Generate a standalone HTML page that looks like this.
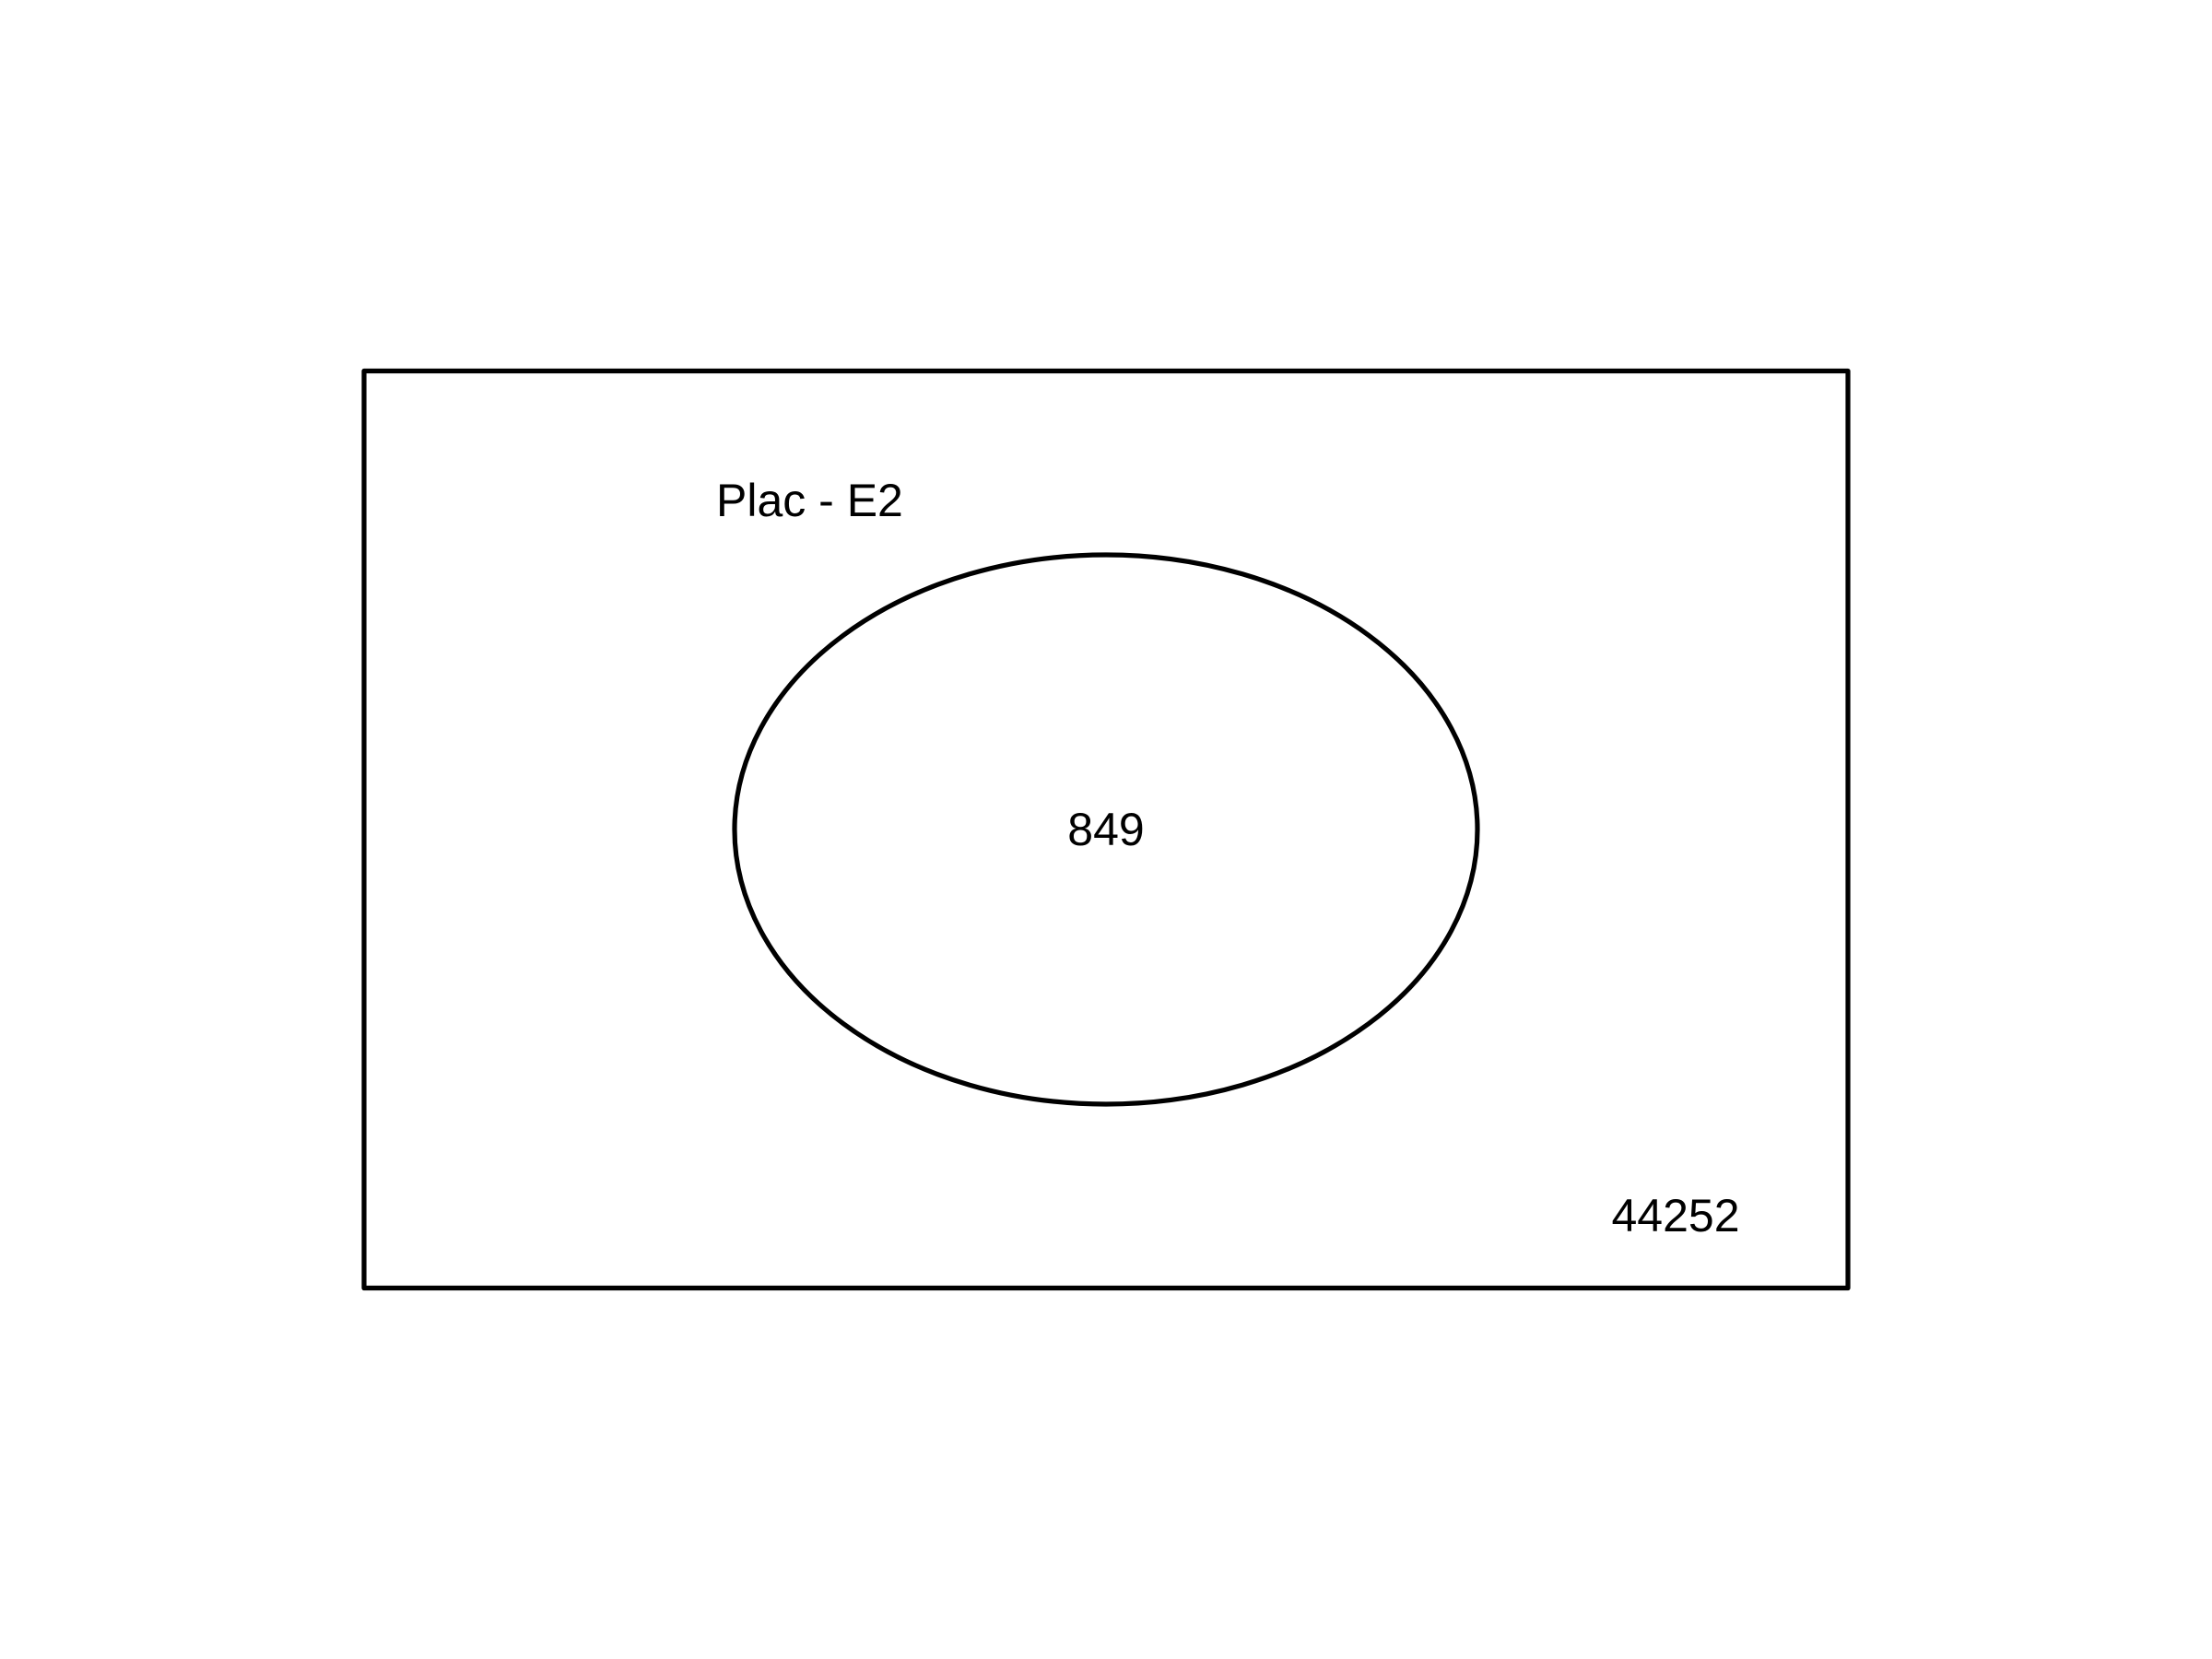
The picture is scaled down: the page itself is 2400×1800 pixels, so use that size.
<!DOCTYPE html>
<html>
<head>
<meta charset="utf-8">
<style>
html,body{margin:0;padding:0;background:#fff;}
svg{display:block;}
text{font-family:"Liberation Sans",sans-serif;fill:#000;}
</style>
</head>
<body>
<svg id="chart" width="2400" height="1800" viewBox="0 0 2400 1800" xmlns="http://www.w3.org/2000/svg">
  <rect x="0" y="0" width="2400" height="1800" fill="#fff"/>
  <rect x="395" y="402.5" width="1610" height="995" fill="none" stroke="#000" stroke-width="5.2" stroke-linejoin="round"/>
  <ellipse cx="1200" cy="900" rx="403" ry="298" fill="none" stroke="#000" stroke-width="5.2"/>
  <text x="777" y="560" font-size="50">Plac - E2</text>
  <text id="inside-count" x="1200" y="917" font-size="50" text-anchor="middle"></text>
  <text id="outside-count" x="1818" y="1336" font-size="50" text-anchor="middle"></text>
</svg>
<script>
const setNames = ["Plac - E2"];
const insideCounts = [849];
const outsideCounts = [44252];
document.getElementById('inside-count').textContent = insideCounts[0];
document.getElementById('outside-count').textContent = outsideCounts[0];
</script>
</body>
</html>
